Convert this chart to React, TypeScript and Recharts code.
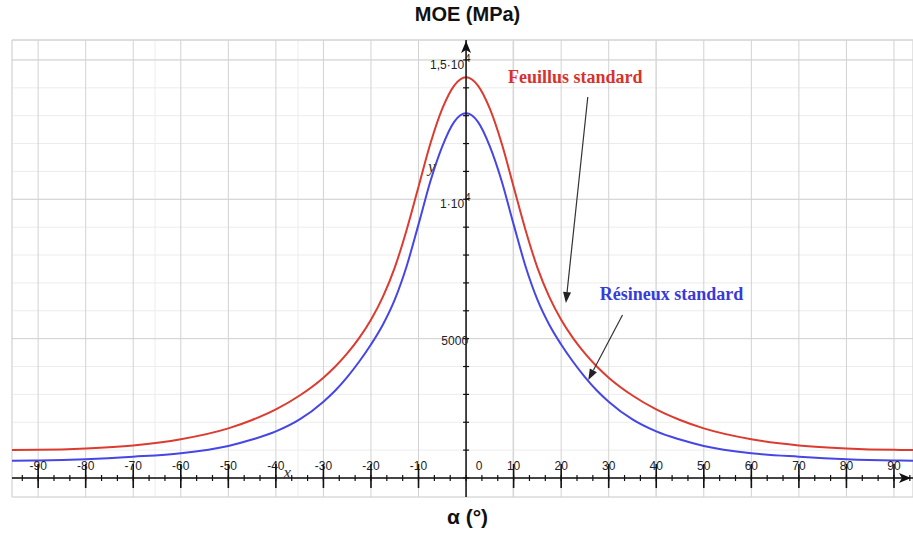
import { LineChart, Line, XAxis, YAxis, CartesianGrid, ReferenceLine, ReferenceDot } from "recharts"

// angle (°) vs MOE (MPa)
const angles = [
  -95.5, -90, -80, -70, -60, -50, -45, -40, -35, -30, -27.5, -25, -22.5, -20, -17.5, -15, -12.5, -10, -7.5, -5, -2.5,
  0,
  2.5, 5, 7.5, 10, 12.5, 15, 17.5, 20, 22.5, 25, 27.5, 30, 35, 40, 45, 50, 60, 70, 80, 90, 94,
]
const feuillus = [
  1005, 1010, 1060, 1170, 1390, 1780, 2080, 2460, 2960, 3600, 4000, 4470, 5020, 5680, 6500, 7550, 8900, 10450, 12000, 13250, 14080,
  14380,
  14080, 13250, 12000, 10450, 8900, 7550, 6500, 5680, 5020, 4470, 4000, 3600, 2960, 2460, 2080, 1780, 1390, 1170, 1060, 1010, 1005,
]
const resineux = [
  622, 630, 675, 765, 890, 1150, 1380, 1670, 2100, 2740, 3140, 3620, 4170, 4790, 5500, 6400, 7600, 9100, 10650, 11900, 12780,
  13085,
  12780, 11900, 10650, 9100, 7600, 6400, 5500, 4790, 4170, 3620, 3140, 2740, 2100, 1670, 1380, 1150, 890, 765, 675, 630, 622,
]

const xMajor = [-90, -80, -70, -60, -50, -40, -30, -20, -10, 0, 10, 20, 30, 40, 50, 60, 70, 80, 90]
const xMinor = Array.from({ length: 57 }, (_, i) => ((i - 28) * 10) / 3)
const yMajor = [0, 5000, 10000, 15000]
const yMinor = [0, 1000, 2000, 3000, 4000, 5000, 6000, 7000, 8000, 9000, 10000, 11000, 12000, 13000, 14000, 15000]
const yLabels = [
  { v: 15000, base: "1,5·10", exp: "4" },
  { v: 10000, base: "1·10", exp: "4" },
  { v: 5000, base: "5000", exp: "" },
]

const xDomain: [number, number] = [-95.5, 94]
const yDomain: [number, number] = [-682, 15716]

const data = angles.map((a, i) => ({ a, feuillus: feuillus[i], resineux: resineux[i] }))

const tickFont = "'Liberation Sans', Arial, sans-serif"

function AnnotArrow(p: any) {
  const { x1, y1, x2, y2 } = p
  const ang = Math.atan2(y2 - y1, x2 - x1)
  const L = 11, W = 4
  const bx = x2 - L * Math.cos(ang), by = y2 - L * Math.sin(ang)
  const nx = -Math.sin(ang) * W, ny = Math.cos(ang) * W
  return (
    <g>
      <line x1={x1} y1={y1} x2={bx} y2={by} stroke="#333" strokeWidth={1.2} />
      <path d={`M${x2},${y2} L${bx + nx},${by + ny} L${bx - nx},${by - ny} Z`} fill="#222" />
    </g>
  )
}

export default function App() {
  return (
    <div style={{ position: "absolute", left: 0, top: 0, width: 913, height: 534, background: "#fff" }}>
      <div style={{ position: "absolute", left: 0, width: 935, top: 3, textAlign: "center", fontFamily: tickFont, fontWeight: 700, fontSize: 20, color: "#111" }}>
        MOE (MPa)
      </div>
      <LineChart width={913} height={534} data={data} margin={{ top: 40, right: 0, bottom: 37, left: 12 }}>
        <XAxis dataKey="a" type="number" domain={xDomain} ticks={xMajor} allowDataOverflow hide />
        <YAxis type="number" domain={yDomain} ticks={yMajor} allowDataOverflow hide />
        <XAxis xAxisId="minor" type="number" domain={xDomain} ticks={xMinor} allowDataOverflow hide />
        <YAxis yAxisId="minor" type="number" domain={yDomain} ticks={yMinor} allowDataOverflow hide />
        <CartesianGrid xAxisId="minor" yAxisId="minor" stroke="#ececec" strokeWidth={1} />
        <CartesianGrid stroke="#d2d2d2" strokeWidth={1} />
        <ReferenceLine y={yDomain[1]} stroke="#d8d8d8" />

        <Line dataKey="feuillus" type="monotone" stroke="#dc3b30" strokeWidth={2} dot={false} isAnimationActive={false} />
        <Line dataKey="resineux" type="monotone" stroke="#4646e6" strokeWidth={2} dot={false} isAnimationActive={false} />

        <ReferenceLine y={0} stroke="#111" strokeWidth={1.5} />
        <ReferenceLine x={0} stroke="#111" strokeWidth={1.5} />

        {xMinor.map((v) => (
          <ReferenceDot key={"xm" + v} x={v} y={0} shape={(p: any) => (
            <line x1={p.cx} x2={p.cx} y1={p.cy - 3} y2={p.cy + 3} stroke="#111" strokeWidth={1.2} />
          )} />
        ))}
        {xMajor.map((v) => (
          <ReferenceDot key={"xM" + v} x={v} y={0} shape={(p: any) => (
            <g>
              <text x={p.cx + (v === 0 ? 13 : 0)} y={p.cy - 8} textAnchor="middle" fontSize={12} fontFamily={tickFont} fill="#222">{v}</text>
              {v !== 0 && <line x1={p.cx} x2={p.cx} y1={p.cy - 14} y2={p.cy + 10} stroke="#111" strokeWidth={1.6} />}
            </g>
          )} />
        ))}
        {yMinor.map((v) => (
          <ReferenceDot key={"ym" + v} x={0} y={v} shape={(p: any) => (
            <line x1={p.cx - 3} x2={p.cx + 3} y1={p.cy} y2={p.cy} stroke="#111" strokeWidth={1.2} />
          )} />
        ))}
        {yLabels.map((l) => (
          <ReferenceDot key={"yl" + l.v} x={0} y={l.v} shape={(p: any) => (
            <g fontFamily={tickFont} fill="#222">
              <text x={p.cx + (l.exp ? -2 : 2)} y={p.cy + (l.exp ? 9 : 6)} textAnchor="end" fontSize={12}>{l.base}</text>
              {l.exp && <text x={p.cx - 1} y={p.cy + 2} fontSize={10}>{l.exp}</text>}
            </g>
          )} />
        ))}

        <ReferenceDot x={0} y={yDomain[1]} shape={(p: any) => (
          <path d={`M${p.cx},${p.cy + 1} L${p.cx + 5},${p.cy + 13} L${p.cx},${p.cy + 10} L${p.cx - 5},${p.cy + 13} Z`} fill="#111" />
        )} />
        <ReferenceDot x={xDomain[1]} y={0} shape={(p: any) => (
          <path d={`M${p.cx - 2},${p.cy} L${p.cx - 14},${p.cy - 5} L${p.cx - 11},${p.cy} L${p.cx - 14},${p.cy + 5} Z`} fill="#111" />
        )} />

        <ReferenceDot x={-37.6} y={0} shape={(p: any) => (
          <text x={p.cx} y={p.cy} textAnchor="middle" fontSize={17} fontStyle="italic" fontFamily="'Liberation Serif', serif" fill="#333">x</text>
        )} />
        <ReferenceDot x={-7.2} y={10980} shape={(p: any) => (
          <text x={p.cx} y={p.cy} textAnchor="middle" fontSize={17} fontStyle="italic" fontFamily="'Liberation Serif', serif" fill="#333">y</text>
        )} />

        <ReferenceLine segment={[{ x: 25.6, y: 13670 }, { x: 21.0, y: 6279 }]} shape={AnnotArrow} />
        <ReferenceLine segment={[{ x: 32.9, y: 5849 }, { x: 25.7, y: 3516 }]} shape={AnnotArrow} />

        <ReferenceDot x={8.8} y={14173} shape={(p: any) => (
          <text x={p.cx} y={p.cy} fontSize={18} fontWeight={700} fontFamily="'Liberation Serif', 'Times New Roman', serif" fill="#d6332c">Feuillus standard</text>
        )} />
        <ReferenceDot x={28.1} y={6387} shape={(p: any) => (
          <text x={p.cx} y={p.cy} fontSize={18} fontWeight={700} fontFamily="'Liberation Serif', 'Times New Roman', serif" fill="#3a3ad6">Résineux standard</text>
        )} />
      </LineChart>
      <div style={{ position: "absolute", left: 0, width: 935, top: 505, textAlign: "center", fontFamily: tickFont, fontWeight: 700, fontSize: 21, color: "#111" }}>
        α (°)
      </div>
    </div>
  )
}
